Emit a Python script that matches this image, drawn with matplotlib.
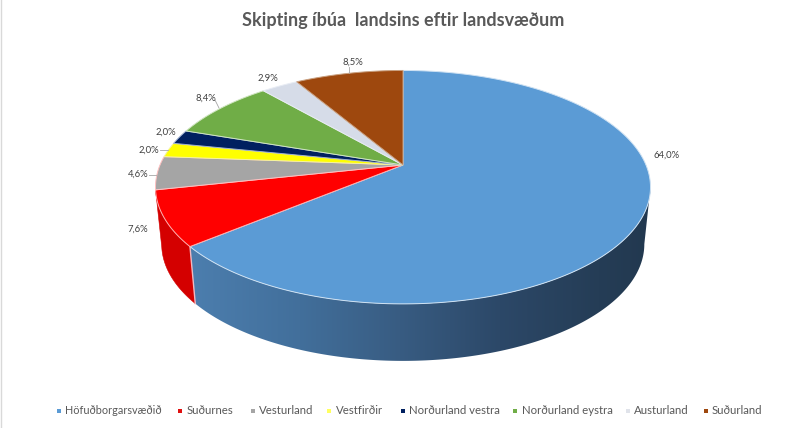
import numpy as np
import matplotlib
matplotlib.use('Agg')
import matplotlib.pyplot as plt
from matplotlib.patches import Polygon

# Data
regions = ['Höfuðborgarsvæðið', 'Suðurnes', 'Vesturland', 'Vestfirðir',
           'Norðurland vestra', 'Norðurland eystra', 'Austurland', 'Suðurland']
shares = [64.0, 7.6, 4.6, 2.0, 2.0, 8.4, 2.9, 8.5]
labels = ['64,0%', '7,6%', '4,6%', '2,0%', '2,0%', '8,4%', '2,9%', '8,5%']
colors = ['#5b9bd5', '#ff0000', '#a5a5a5', '#ffff00', '#002060', '#70ad47', '#d6dce8', '#9e480e']
edges = ['#cfe2f3', '#ffb0b0', '#ffc0c0', '#f4f4a0', '#9fb0d0', '#cfe5c0', '#e8ecf4', '#c9a080']

label_x = [667, 138, 138, 149, 166, 206, 268, 353]
label_y = [155, 229, 174, 150, 132, 98, 78, 62]
leaders = [None, None, ((149, 175), (156, 175)), ((160, 150), (168, 150)), None,
           ((215, 100), (219, 108)), None, ((349, 67), (349, 73))]
legend_marker_x = [59, 180, 253, 329, 403, 515, 628, 706]
legend_text_x = [65, 187, 259, 336, 409, 522, 634, 712]
legend_sizes = [7.8, 8.2, 8.2, 8.2, 8.2, 8.2, 8.2, 8.2]
legend_colors = ['#5b9bd5', '#e01010', '#a5a5a5', '#ffff60', '#002060', '#70ad47', '#e0e3ea', '#9e480e']

# Perspective of the pie's top face
cx, cy = 403, 165
a, c, k = 243, 112.5, 0.19


def top_xy(theta, dy=0, sx=1.0):
    # theta is clockwise from 12 o'clock, in radians
    X, Y = np.sin(theta), np.cos(theta)
    w = 1 + k * Y
    return cx + sx * a * X / w, cy + dy - c * Y / w


def wall_gradient():
    # horizontal colour ramp of the blue wall, 150 to 660 px
    xs = np.linspace(150, 660, 256)
    pos = [190, 300, 400, 500, 600, 655]
    r = np.interp(xs, pos, [0x4c, 0x42, 0x38, 0x2c, 0x25, 0x22])
    g = np.interp(xs, pos, [0x7e, 0x6f, 0x5c, 0x48, 0x3d, 0x38])
    b = np.interp(xs, pos, [0xae, 0x9b, 0x82, 0x68, 0x56, 0x4f])
    return np.dstack([r, g, b])[0:1] / 255


fig = plt.figure(figsize=(8, 4.28), dpi=100)
ax = fig.add_axes([0, 0, 1, 1])
plt.rcParams['font.family'] = ['Lato', 'DejaVu Sans']

bounds = np.radians(np.cumsum([0] + shares) * 3.6)

# Side walls: blue and red are the only visible ones
# the blue one starts at the right-hand extreme of the rim, the part before it is hidden
depth, sx_low = 57, 0.975
for i in [1, 0]:
    start = max(bounds[i], np.arccos(-k)) if i == 0 else bounds[i]
    t = np.linspace(start, bounds[i + 1], 240)
    x1, y1 = top_xy(t)
    x2, y2 = top_xy(t, depth, sx_low)
    outline = np.c_[np.r_[x1, x2[::-1]], np.r_[y1, y2[::-1]]]
    if i == 0:
        patch = Polygon(outline, closed=True, facecolor='none', edgecolor='none')
        ax.add_patch(patch)
        im = ax.imshow(wall_gradient(), extent=(150, 660, 370, 160), aspect='auto',
                       interpolation='bilinear', zorder=2)
        im.set_clip_path(patch)
    else:
        ax.fill(outline[:, 0], outline[:, 1], color='#d40000', lw=0.4, zorder=2)

ax.set_xlim(0, 800)
ax.set_ylim(428, 0)
ax.axis('off')

# Light seam between the two walls
x1, y1 = top_xy(bounds[1])
x2, y2 = top_xy(bounds[1], depth, sx_low)
ax.plot([x1, x2], [y1, y2], color='#f0b8c0', lw=1.0, zorder=3)

# Top face
for i in range(len(shares)):
    t = np.linspace(bounds[i], bounds[i + 1], 200)
    x, y = top_xy(t)
    ax.fill(np.r_[cx, x], np.r_[cy, y], facecolor=colors[i], edgecolor=edges[i], lw=0.7, zorder=4)

# Labels
for i in range(len(labels)):
    ax.text(label_x[i], label_y[i], labels[i], ha='center', va='center', fontsize=6.8,
            color='#404040', zorder=6)
    if leaders[i] is not None:
        ax.plot(*zip(*leaders[i]), color='#a6a6a6', lw=0.6, zorder=5)

ax.text(403, 20, 'Skipting íbúa  landsins eftir landsvæðum', ha='center', va='center',
        fontsize=13, fontweight='bold', color='#595959')

# Legend
for i in range(len(regions)):
    ax.scatter(legend_marker_x[i], 411, marker='s', s=9, color=legend_colors[i], linewidths=0)
    ax.text(legend_text_x[i], 411, regions[i], ha='left', va='center', fontsize=legend_sizes[i],
            color='#595959')

# Faint frame on the left side of the picture
ax.plot([0.5, 0.5], [0, 428], color='#d9d9d9', lw=1.0)

fig.savefig('out.png', dpi=100)
